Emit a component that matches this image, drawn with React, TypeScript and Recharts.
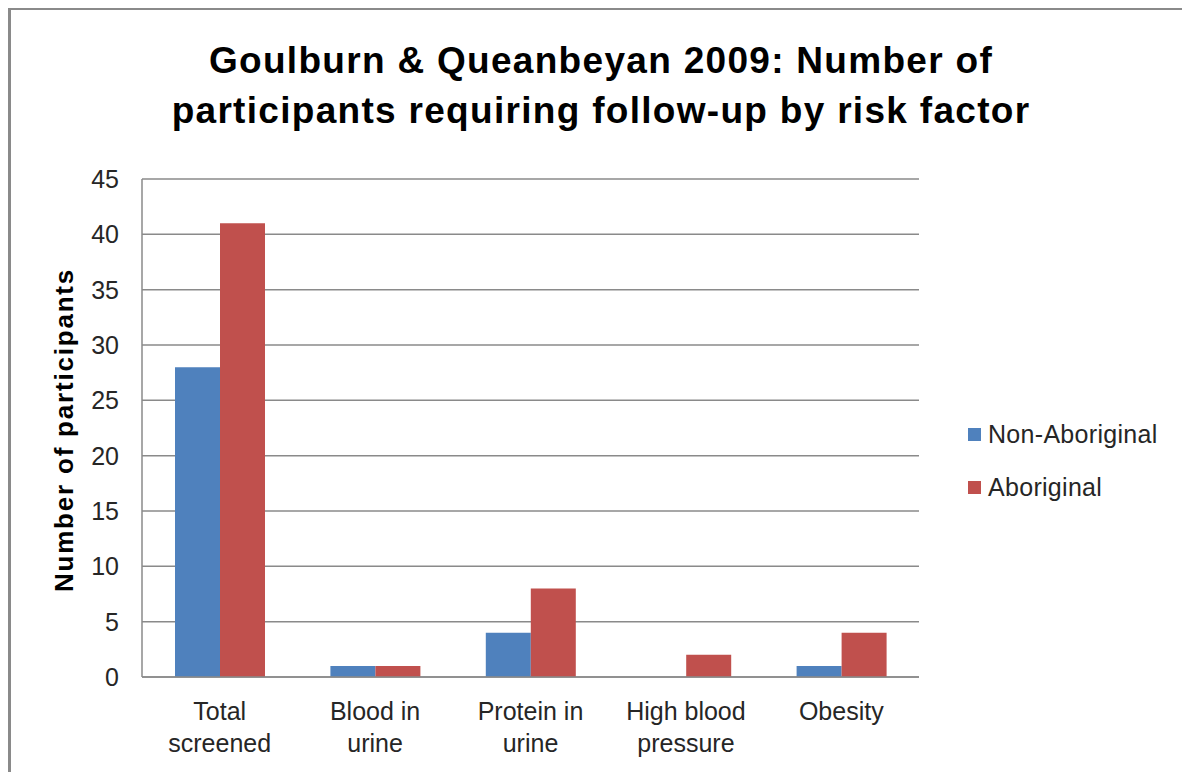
import { BarChart, Bar, XAxis, YAxis, CartesianGrid, Legend } from 'recharts';

const categories = ['Total\nscreened', 'Blood in\nurine', 'Protein in\nurine', 'High blood\npressure', 'Obesity'];
const nonAboriginal = [28, 1, 4, 0, 1];
const aboriginal = [41, 1, 8, 2, 4];
const yTicks = [0, 5, 10, 15, 20, 25, 30, 35, 40, 45];
const seriesOrder = ['nonAboriginal', 'aboriginal'];

const BLUE = '#4F81BD';
const RED = '#C0504D';
const FONT = '"Liberation Sans", Arial, sans-serif';

const data = categories.map((c, i) => ({
  name: c,
  nonAboriginal: nonAboriginal[i],
  aboriginal: aboriginal[i],
}));

const XTick = (props: any) => {
  const { x, y, payload } = props;
  const lines = String(payload.value).split('\n');
  return (
    <text x={x} y={y} textAnchor="middle" fill="#262626" fontSize={25} fontFamily={FONT}>
      {lines.map((l, i) => (
        <tspan key={i} x={x} dy={i === 0 ? 43 : 32}>{l}</tspan>
      ))}
    </text>
  );
};

const LegendBox = (props: any) => {
  const items = [...(props.payload || [])].sort(
    (a: any, b: any) => seriesOrder.indexOf(a.dataKey) - seriesOrder.indexOf(b.dataKey)
  );
  return (
    <div style={{ fontFamily: FONT, fontSize: 25, letterSpacing: 0.3, color: '#262626' }}>
      {items.map((it: any, i: number) => (
        <div key={i} style={{ display: 'flex', alignItems: 'center', height: 53 }}>
          <span style={{ width: 13, height: 13, background: it.color, display: 'inline-block', marginRight: 7 }} />
          <span>{it.value}</span>
        </div>
      ))}
    </div>
  );
};

export default function App() {
  return (
    <div style={{ position: 'relative', width: 1182, height: 764, background: '#fff' }}>
      <style>{'html, body { overflow: hidden; }'}</style>
      {/* frame, only top and left edges show in the crop */}
      <div style={{ position: 'absolute', left: 0, top: -1, width: 1182, height: 3, background: '#8a8a8a' }} />
      <div style={{ position: 'absolute', left: 0, top: -1, width: 3, height: 765, background: '#8a8a8a' }} />
      {/* title */}
      <div style={{
        position: 'absolute', left: 0, top: 28, width: 1186, textAlign: 'center',
        fontFamily: FONT, fontWeight: 'bold', fontSize: 37, lineHeight: '50px', color: '#000', letterSpacing: 1.3,
      }}>
        Goulburn &amp; Queanbeyan 2009: Number of<br />participants requiring follow-up by risk factor
      </div>
      {/* y axis title */}
      <div style={{
        position: 'absolute', left: 56 - 200, top: 422 - 15, width: 400, height: 30, lineHeight: '30px',
        textAlign: 'center', transform: 'rotate(-90deg)', fontFamily: FONT, fontWeight: 'bold',
        fontSize: 26, letterSpacing: 1.8, color: '#000',
      }}>
        Number of participants
      </div>
      <div style={{ position: 'absolute', left: 0, top: 0 }}>
        <BarChart
          width={1174}
          height={764}
          data={data}
          margin={{ top: 171, right: 263, bottom: 15, left: 74 }}
          barGap={0}
          barCategoryGap={33}
        >
          <CartesianGrid vertical={false} stroke="#8a8a8a" strokeWidth={1.5} />
          <XAxis
            dataKey="name"
            height={80}
            tickLine={false}
            tickSize={0}
            tickMargin={0}
            axisLine={{ stroke: '#8a8a8a', strokeWidth: 1.5 }}
            tick={<XTick />}
            interval={0}
          />
          <YAxis
            width={60}
            domain={[0, 45]}
            ticks={yTicks}
            tickLine={false}
            tickSize={0}
            tickMargin={23}
            axisLine={{ stroke: '#8a8a8a', strokeWidth: 1.5 }}
            tick={{ fill: '#262626', fontSize: 25, fontFamily: FONT }}
          />
          <Legend
            layout="horizontal"
            align="center"
            verticalAlign="middle"
            content={<LegendBox />}
            wrapperStyle={{ left: 960, top: 400, width: 210, height: 106 }}
          />
          <Bar dataKey="nonAboriginal" name="Non-Aboriginal" fill={BLUE} isAnimationActive={false} />
          <Bar dataKey="aboriginal" name="Aboriginal" fill={RED} isAnimationActive={false} />
        </BarChart>
      </div>
    </div>
  );
}
